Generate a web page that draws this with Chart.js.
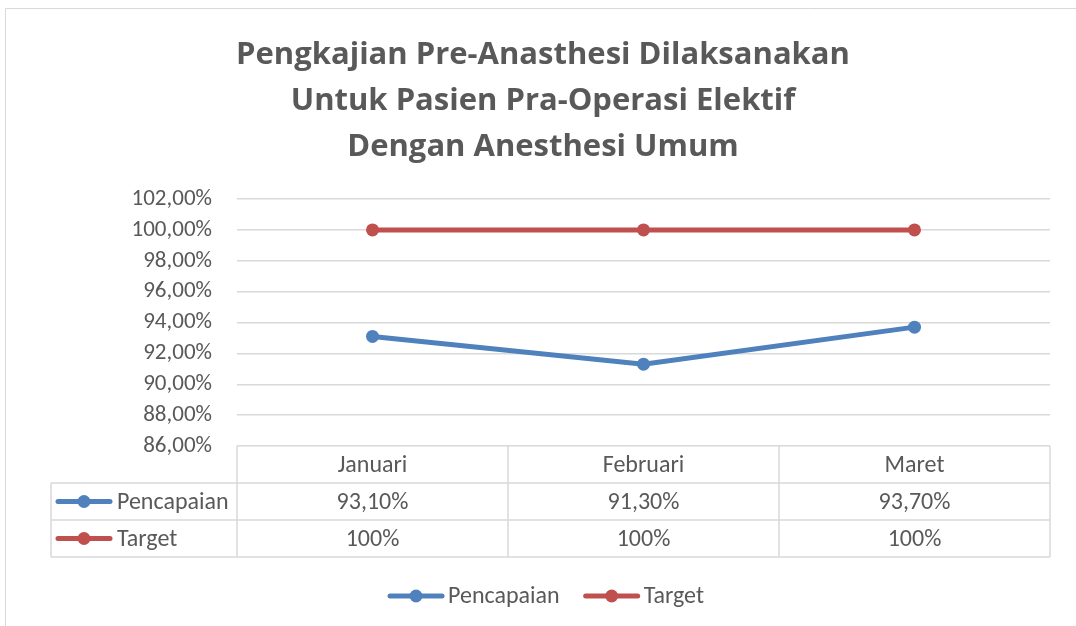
<!DOCTYPE html>
<html>
<head>
<meta charset="utf-8">
<script src="https://cdn.jsdelivr.net/npm/chart.js@4.4.0/dist/chart.umd.min.js"></script>
<style>
    html, body { margin: 0; padding: 0; background: #fff; }
</style>
</head>
<body>
<canvas id="achievementChart" width="1076" height="626"></canvas>
<script>
const months = ['Januari', 'Februari', 'Maret'];
const pencapaian = [93.1, 91.3, 93.7];
const target = [100, 100, 100];
const titleLines = [
    'Pengkajian Pre-Anasthesi Dilaksanakan',
    'Untuk Pasien Pra-Operasi Elektif',
    'Dengan Anesthesi Umum'
];
const yMin = 86;
const yMax = 102;
const yStep = 2;

const BLUE = '#4F81BD';
const RED = '#C0504D';
const TEXT = '#595959';
const GRID = '#D9D9D9';
const FONT = 'Carlito, Lato, "Open Sans", sans-serif';
const FONT_SIZE = 23;
const TABLE_FONT_SIZE = 24;

function pct(v, decimals) {
    return v.toFixed(decimals).replace('.', ',') + '%';
}

const series = [
    { name: 'Pencapaian', data: pencapaian, color: BLUE, text: v => pct(v, 2) },
    { name: 'Target', data: target, color: RED, text: v => pct(v, 0) }
];

function drawKey(ctx, x, y, color) {
    ctx.save();
    ctx.strokeStyle = color;
    ctx.lineWidth = 5;
    ctx.lineCap = 'round';
    ctx.beginPath();
    ctx.moveTo(x, y);
    ctx.lineTo(x + 52, y);
    ctx.stroke();
    ctx.fillStyle = color;
    ctx.beginPath();
    ctx.arc(x + 26, y, 6.5, 0, Math.PI * 2);
    ctx.fill();
    ctx.restore();
}

// frame around the chart, data table under the plot, legend at bottom
const tablePlugin = {
    id: 'dataTable',
    beforeDraw(chart) {
        const ctx = chart.ctx;
        ctx.save();
        ctx.strokeStyle = GRID;
        ctx.lineWidth = 1;
        ctx.beginPath();
        ctx.moveTo(5.5, 626);
        ctx.lineTo(5.5, 8.5);
        ctx.lineTo(1076, 8.5);
        ctx.stroke();
        ctx.restore();
    },
    afterDraw(chart) {
        const { ctx, chartArea } = chart;
        const x = chart.scales.x;
        const rowH = 37;
        const labelLeft = 51;
        const top = chartArea.bottom;
        const centers = months.map((m, i) => x.getPixelForValue(i));
        const edges = [chartArea.left];
        for (let i = 1; i < centers.length; i++) {
            edges.push((centers[i - 1] + centers[i]) / 2);
        }
        edges.push(chartArea.right);

        ctx.save();
        ctx.strokeStyle = GRID;
        ctx.lineWidth = 1.5;
        ctx.beginPath();
        // horizontal rules
        for (let r = 1; r <= 3; r++) {
            const y = top + r * rowH;
            ctx.moveTo(labelLeft, y);
            ctx.lineTo(chartArea.right, y);
        }
        // vertical rules
        edges.forEach(e => {
            ctx.moveTo(e, top);
            ctx.lineTo(e, top + 3 * rowH);
        });
        ctx.moveTo(labelLeft, top + rowH);
        ctx.lineTo(labelLeft, top + 3 * rowH);
        ctx.stroke();

        ctx.font = `${TABLE_FONT_SIZE}px ${FONT}`;
        ctx.fillStyle = TEXT;
        ctx.textBaseline = 'middle';
        ctx.textAlign = 'center';
        months.forEach((m, i) => ctx.fillText(m, centers[i], top + rowH / 2 + 1));
        series.forEach((s, r) => {
            const y = top + (r + 1.5) * rowH + 1;
            s.data.forEach((v, i) => ctx.fillText(s.text(v), centers[i], y));
        });
        ctx.textAlign = 'left';
        series.forEach((s, r) => {
            const y = top + (r + 1.5) * rowH;
            drawKey(ctx, labelLeft + 7, y, s.color);
            ctx.fillStyle = TEXT;
            ctx.fillText(s.name, labelLeft + 66, y + 1);
        });

        // legend
        const gap = 26;
        const keyW = 58;
        const widths = series.map(s => keyW + ctx.measureText(s.name).width);
        const total = widths.reduce((a, b) => a + b, 0) + gap;
        let lx = 547 - total / 2;
        const ly = 596;
        series.forEach((s, i) => {
            drawKey(ctx, lx, ly, s.color);
            ctx.fillStyle = TEXT;
            ctx.fillText(s.name, lx + keyW, ly + 1);
            lx += widths[i] + gap;
        });
        ctx.restore();
    }
};

const ctx = document.getElementById('achievementChart').getContext('2d');
const chart = new Chart(ctx, {
    type: 'line',
    data: {
        labels: months,
        datasets: series.map(s => ({
            label: s.name,
            data: s.data,
            borderColor: s.color,
            backgroundColor: s.color,
            pointBackgroundColor: s.color,
            pointBorderWidth: 0,
            pointRadius: 6.5,
            borderWidth: 5,
            tension: 0
        }))
    },
    options: {
        responsive: false,
        animation: false,
        devicePixelRatio: 1,
        layout: { padding: { left: 36, right: 26, top: 0, bottom: 180 } },
        scales: {
            x: {
                display: false,
                offset: true
            },
            y: {
                min: yMin,
                max: yMax,
                afterFit: s => { s.width = 201; },
                border: { display: false },
                grid: { color: GRID, lineWidth: 1.5, drawTicks: false },
                ticks: {
                    stepSize: yStep,
                    padding: 25,
                    color: TEXT,
                    font: { family: FONT, size: FONT_SIZE },
                    callback: v => pct(v, 2)
                }
            }
        },
        plugins: {
            legend: { display: false },
            tooltip: { enabled: false },
            title: {
                display: true,
                text: titleLines,
                color: TEXT,
                font: { family: '"Open Sans", Lato, sans-serif', size: 31, weight: 'bold', lineHeight: 46 / 31 },
                padding: { top: 32, bottom: 29 }
            }
        }
    },
    plugins: [tablePlugin]
});
</script>
</body>
</html>
